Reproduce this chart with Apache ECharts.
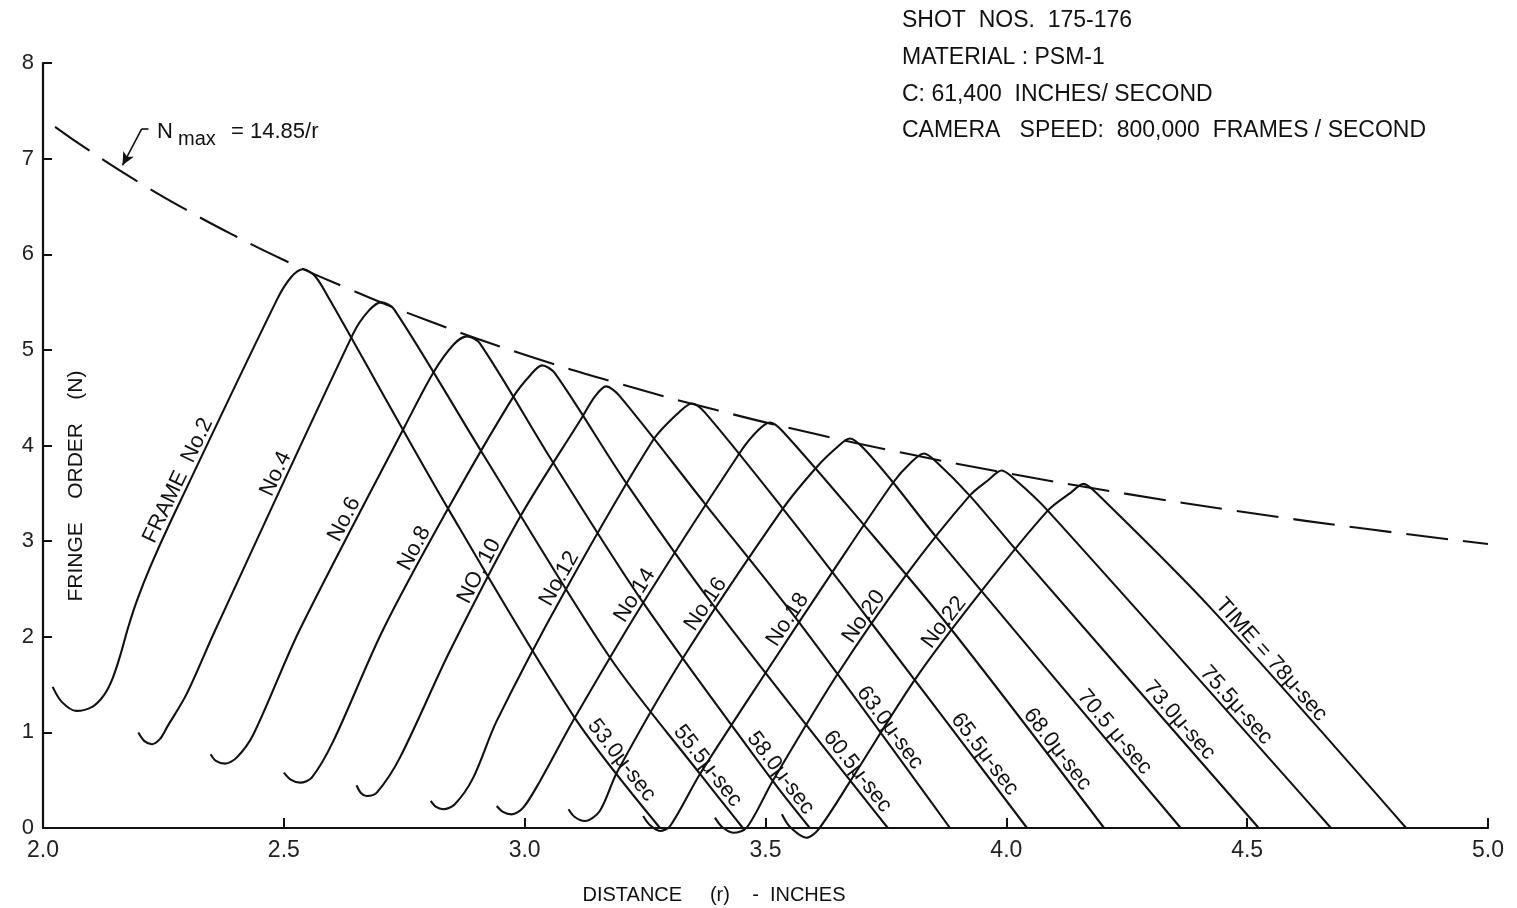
<!DOCTYPE html>
<html>
<head>
<meta charset="utf-8">
<script src="https://cdn.jsdelivr.net/npm/echarts/dist/echarts.min.js"></script>
<style>
  html, body { margin: 0; padding: 0; background: #fff; }
  #chart { width: 1517px; height: 908px; }
</style>
</head>
<body>
<div id="chart"></div>
<script>
// Fringe order N against distance r for each camera frame (r in inches, N fringe order)
const frame02 = [[2.020,1.476],[2.039,1.319],[2.069,1.225],[2.102,1.267],[2.127,1.393],[2.145,1.571],[2.162,1.832],[2.176,2.084],[2.195,2.377],[2.222,2.722],[2.264,3.194],[2.485,5.518],[2.515,5.759],[2.540,5.843],[2.565,5.770],[2.596,5.518],[2.841,3.340],[3.104,1.152],[3.281,0]];
const frame04 = [[2.198,0.998],[2.210,0.911],[2.226,0.876],[2.243,0.932],[2.257,1.050],[2.298,1.400],[2.357,2.063],[2.644,5.170],[2.675,5.403],[2.702,5.497],[2.729,5.424],[2.911,3.930],[3.177,1.783],[3.364,0.565],[3.453,0]];
const frame06 = [[2.348,0.772],[2.359,0.702],[2.378,0.673],[2.402,0.736],[2.437,0.981],[2.532,2.063],[2.752,4.209],[2.810,4.759],[2.853,5.058],[2.880,5.141],[2.907,5.068],[3.059,3.822],[3.246,2.356],[3.515,0.492],[3.592,0]];
const frame08 = [[2.500,0.579],[2.515,0.503],[2.534,0.474],[2.558,0.527],[2.603,0.911],[2.705,2.063],[2.841,3.340],[2.976,4.506],[3.013,4.743],[3.036,4.838],[3.063,4.754],[3.212,3.599],[3.395,2.307],[3.754,0]];
const frame10 = [[2.651,0.447],[2.660,0.366],[2.672,0.335],[2.693,0.370],[2.741,0.736],[2.845,1.853],[2.990,3.249],[3.119,4.293],[3.146,4.513],[3.169,4.618],[3.196,4.524],[3.374,3.393],[3.567,2.168],[3.883,0]];
const frame12 = [[2.805,0.283],[2.816,0.220],[2.831,0.196],[2.855,0.248],[2.893,0.524],[2.942,1.120],[3.084,2.482],[3.266,4.052],[3.320,4.346],[3.347,4.440],[3.374,4.346],[3.536,3.340],[3.721,2.136],[4.043,0]];
const frame14 = [[2.942,0.230],[2.955,0.168],[2.973,0.143],[2.997,0.213],[3.032,0.492],[3.104,1.152],[3.246,2.356],[3.447,3.927],[3.482,4.147],[3.509,4.241],[3.536,4.147],[3.702,3.183],[3.883,2.094],[4.203,0]];
const frame16 = [[3.091,0.196],[3.104,0.115],[3.125,0.073],[3.156,0.178],[3.192,0.586],[3.329,1.780],[3.536,3.340],[3.606,3.773],[3.648,3.979],[3.675,4.073],[3.702,3.979],[3.765,3.613],[3.852,3.058],[4.362,0]];
const frame18 = [[3.246,0.126],[3.260,0.031],[3.281,-0.031],[3.302,0.021],[3.364,0.565],[3.499,1.613],[3.638,2.670],[3.765,3.613],[3.802,3.822],[3.829,3.916],[3.856,3.822],[3.924,3.476],[4.018,2.921],[4.524,0]];
const frame20 = [[3.395,0.108],[3.410,0.010],[3.433,-0.049],[3.461,0.003],[3.515,0.492],[3.650,1.613],[3.794,2.660],[3.924,3.476],[3.964,3.644],[3.990,3.738],[4.018,3.644],[4.086,3.319],[4.674,0]];
const frame22 = [[3.534,0.143],[3.551,0.010],[3.585,-0.102],[3.610,-0.014],[3.675,0.482],[3.812,1.565],[3.949,2.482],[4.086,3.319],[4.134,3.508],[4.160,3.599],[4.186,3.508],[4.423,2.307],[4.830,0]];

// Envelope N_max = 14.85 / r
const envelopeR = [2.025, 2.1, 2.2, 2.3, 2.4, 2.5, 2.6, 2.8, 3.0, 3.2, 3.4, 3.6, 3.8, 4.0, 4.25, 4.5, 4.75, 5.0];
const envelopeN = [7.333, 7.071, 6.750, 6.457, 6.188, 5.940, 5.712, 5.304, 4.950, 4.641, 4.368, 4.125, 3.908, 3.713, 3.494, 3.300, 3.126, 2.970];

// Curve captions: frame numbers on the rising sides, times on the falling sides
const frameNames = ['FRAME  No.2', 'No.4', 'No.6', 'No.8', 'NO. 10', 'No.12', 'No.14', 'No.16', 'No.18', 'No.20', 'No.22'];
const frameNameAtR = [2.301, 2.504, 2.646, 2.791, 2.926, 3.092, 3.248, 3.395, 3.565, 3.723, 3.889];
const timeNames = ['53.0μ-sec', '55.5μ-sec', '58.0μ-sec', '60.5μ-sec', '63.0μ-sec', '65.5μ-sec', '68.0μ-sec', '70.5 μ-sec', '73.0μ-sec', '75.5μ-sec', 'TIME = 78μ-sec'];
const timeNameAtR = [3.183, 3.362, 3.513, 3.673, 3.740, 3.937, 4.088, 4.207, 4.342, 4.460, 4.533];

// Axis ticks
const rTicks = { min: 2.0, max: 5.0, step: 0.5 };
const nTicks = { min: 0, max: 8, step: 1 };

// Leader arrow for the envelope caption
const arrowPath = [[2.219, 7.31], [2.205, 7.31], [2.165, 6.93]];

const frames = [frame02, frame04, frame06, frame08, frame10, frame12, frame14, frame16, frame18, frame20, frame22];
const ink = '#111';
const fontFam = '"Liberation Sans", Arial, sans-serif';

function nAt(pts, r) {
  for (let i = 1; i < pts.length; i++) {
    if (r <= pts[i][0]) {
      const x0 = pts[i - 1][0], y0 = pts[i - 1][1], x1 = pts[i][0], y1 = pts[i][1];
      return y0 + (y1 - y0) * (r - x0) / (x1 - x0);
    }
  }
  return pts[pts.length - 1][1];
}

const captions = frameNames.map((t, i) => ({ text: t, curve: i, r: frameNameAtR[i] }))
  .concat(timeNames.map((t, i) => ({ text: t, curve: i, r: timeNameAtR[i] })));

const frameSeries = frames.map((pts, i) => ({
  type: 'line',
  name: frameNames[i],
  data: pts,
  smooth: 0.3,
  showSymbol: false,
  symbol: 'none',
  clip: false,
  silent: true,
  lineStyle: { color: ink, width: 2.1 },
  z: 3
}));

const envelopeSeries = {
  type: 'line',
  name: 'Nmax',
  data: envelopeR.map((r, i) => [r, envelopeN[i]]),
  smooth: true,
  showSymbol: false,
  symbol: 'none',
  silent: true,
  lineStyle: { color: ink, width: 2.1, type: [42, 15] },
  markLine: {
    silent: true,
    animation: false,
    symbolSize: [9, 13],
    label: { show: false },
    lineStyle: { color: ink, width: 1.6, type: 'solid' },
    data: [
      [{ coord: arrowPath[0], symbol: 'none' }, { coord: arrowPath[1], symbol: 'none' }],
      [{ coord: arrowPath[1], symbol: 'none' }, { coord: arrowPath[2], symbol: 'arrow' }]
    ]
  },
  z: 2
};

const captionSeries = {
  type: 'custom',
  coordinateSystem: 'cartesian2d',
  silent: true,
  clip: false,
  encode: { x: 0, y: 1 },
  data: captions.map(c => [c.r, nAt(frames[c.curve], c.r)]),
  renderItem: function (params, api) {
    const c = captions[params.dataIndex];
    const pts = frames[c.curve];
    const h = 0.02;
    const a = api.coord([c.r - h, nAt(pts, c.r - h)]);
    const b = api.coord([c.r + h, nAt(pts, c.r + h)]);
    const p = api.coord([c.r, nAt(pts, c.r)]);
    const theta = Math.atan2(a[1] - b[1], b[0] - a[0]);
    return {
      type: 'text',
      x: p[0],
      y: p[1],
      rotation: theta,
      style: {
        text: c.text,
        fill: ink,
        font: '22px ' + fontFam,
        align: 'center',
        verticalAlign: 'bottom',
        textAlign: 'center',
        textVerticalAlign: 'bottom'
      }
    };
  },
  z: 4
};

function txt(text, x, y, size, opts) {
  const o = Object.assign({ align: 'left', vAlign: 'middle', rotation: 0 }, opts || {});
  return {
    type: 'text', x: x, y: y, rotation: o.rotation, silent: true,
    style: {
      text: text, fill: ink, font: size + 'px ' + fontFam,
      align: o.align, verticalAlign: o.vAlign,
      textAlign: o.align, textVerticalAlign: o.vAlign
    }
  };
}

const chart = echarts.init(document.getElementById('chart'));
chart.setOption({
  backgroundColor: '#fff',
  animation: false,
  grid: { left: 43, right: 29, top: 63, bottom: 80, containLabel: false },
  xAxis: {
    type: 'value',
    min: rTicks.min, max: rTicks.max, interval: rTicks.step,
    axisLine: { show: true, lineStyle: { color: ink, width: 2.2 } },
    axisTick: { show: true, inside: true, length: 10, lineStyle: { color: ink, width: 2 } },
    axisLabel: { show: true, margin: 11, color: '#222', fontFamily: fontFam, fontSize: 23, formatter: v => v.toFixed(1) },
    splitLine: { show: false }
  },
  yAxis: {
    type: 'value',
    min: nTicks.min, max: nTicks.max, interval: nTicks.step,
    axisLine: { show: true, lineStyle: { color: ink, width: 2.2 } },
    axisTick: { show: true, inside: true, length: 9, lineStyle: { color: ink, width: 2 } },
    axisLabel: { show: true, margin: 9, color: '#222', fontFamily: fontFam, fontSize: 22 },
    splitLine: { show: false }
  },
  graphic: [
    txt('SHOT  NOS.  175-176', 902, 21, 23),
    txt('MATERIAL : PSM-1', 902, 58, 23),
    txt('C: 61,400  INCHES/ SECOND', 902, 95, 23),
    txt('CAMERA   SPEED:  800,000  FRAMES / SECOND', 902, 131, 23),
    txt('N', 157, 132, 22),
    txt('max', 178, 139, 20),
    txt('= 14.85/r', 231, 132, 22),
    txt('DISTANCE     (r)    -  INCHES', 714, 895, 20, { align: 'center' }),
    txt('FRINGE    ORDER    (N)', 76, 486, 21, { align: 'center', rotation: Math.PI / 2 })
  ],
  series: frameSeries.concat([envelopeSeries, captionSeries])
});
</script>
</body>
</html>
